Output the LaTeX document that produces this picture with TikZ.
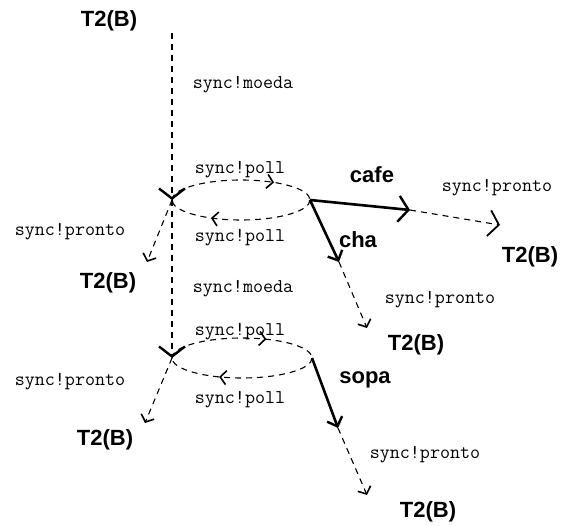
\documentclass[tikz,border=0pt]{standalone}
\usepackage{fontspec}
\setsansfont{Liberation Sans}
\usetikzlibrary{arrows.meta,decorations.markings}

\tikzset{
  trans/.style={line width=1.1pt, dash pattern=on 6pt off 5pt},
  small/.style={-{Straight Barb[length=6pt,width=14pt,line width=1.6pt]}},
  big/.style={-{Straight Barb[length=10pt,width=26pt,line width=2.4pt]}},
  choice/.style={line width=2.6pt},
  state/.style={font=\fontsize{22}{24}\selectfont\sffamily\bfseries},
  act/.style={font=\fontsize{19.5}{22}\selectfont\ttfamily},
  midarrow/.style={postaction={decorate}, decoration={markings,
    mark=at position #1 with {\arrow{Straight Barb[length=6pt,width=14pt,line width=1.6pt]}}}},
}

\begin{document}
\begin{tikzpicture}[x=1pt,y=-1pt]
\useasboundingbox (0,0) rectangle (566,526);

% Junctions
\coordinate (top) at (172,33);
\coordinate (j1) at (172,200);
\coordinate (r1) at (310,200);
\coordinate (j2) at (172,358);
\coordinate (r2) at (312,358);

% Arrow ends
\coordinate (cf) at (410,210);
\coordinate (cfe) at (500,225);
\coordinate (ch) at (339,262);
\coordinate (che) at (367,328);
\coordinate (sp) at (338,428);
\coordinate (spe) at (367,495);
\coordinate (l1) at (147,262);
\coordinate (l2) at (145,423);

% States
\node[state] (t0) at (109,21) {T2(B)};
\node[state] (t1) at (108,283) {T2(B)};
\node[state] (t2) at (530,257) {T2(B)};
\node[state] (t3) at (416,345) {T2(B)};
\node[state] (t4) at (105,440) {T2(B)};
\node[state] (t5) at (428,512) {T2(B)};

% Main line
\draw[trans,big] (top) -- (j1);
\draw[trans,big] (j1) -- (j2);

% Poll loops
\draw[trans,midarrow=0.72] (j1) arc[start angle=180, end angle=360, x radius=69, y radius=20];
\draw[trans,midarrow=0.70] (r1) arc[start angle=0, end angle=180, x radius=69, y radius=20];
\draw[trans,midarrow=0.66] (j2) arc[start angle=180, end angle=360, x radius=70, y radius=20];
\draw[trans,midarrow=0.65] (r2) arc[start angle=0, end angle=180, x radius=70, y radius=20];

% Choices
\draw[choice,big] (r1) -- (cf);
\draw[choice,-{Straight Barb[length=8pt,width=16pt,line width=2.4pt]}] (r1) -- (ch);
\draw[choice,-{Straight Barb[length=8pt,width=16pt,line width=2.4pt]}] (r2) -- (sp);

% Pronto
\draw[trans,-{Straight Barb[length=10pt,width=26pt,line width=1.8pt]}] (cf) -- (cfe);
\draw[trans,small] (ch) -- (che);
\draw[trans,small] (sp) -- (spe);
\draw[trans,small] (j1) -- (l1);
\draw[trans,small] (j2) -- (l2);

% Labels
\node[act] (a1) at (243,85) {sync!moeda};
\node[act] (a2) at (240,170) {sync!poll};
\node[act] (a3) at (240,238) {sync!poll};
\node[act] (a4) at (243,289) {sync!moeda};
\node[act] (a5) at (240,332) {sync!poll};
\node[act] (a6) at (240,400) {sync!poll};
\node[act] (a7) at (70,232) {sync!pronto};
\node[act] (a8) at (70,382) {sync!pronto};
\node[act] (a9) at (497,188) {sync!pronto};
\node[act] (a10) at (440,300) {sync!pronto};
\node[act] (a11) at (425,455) {sync!pronto};
\node[state] (c1) at (372,175) {cafe};
\node[state] (c2) at (358,240) {cha};
\node[state] (c3) at (365,380) {sopa};

\end{tikzpicture}
\end{document}
